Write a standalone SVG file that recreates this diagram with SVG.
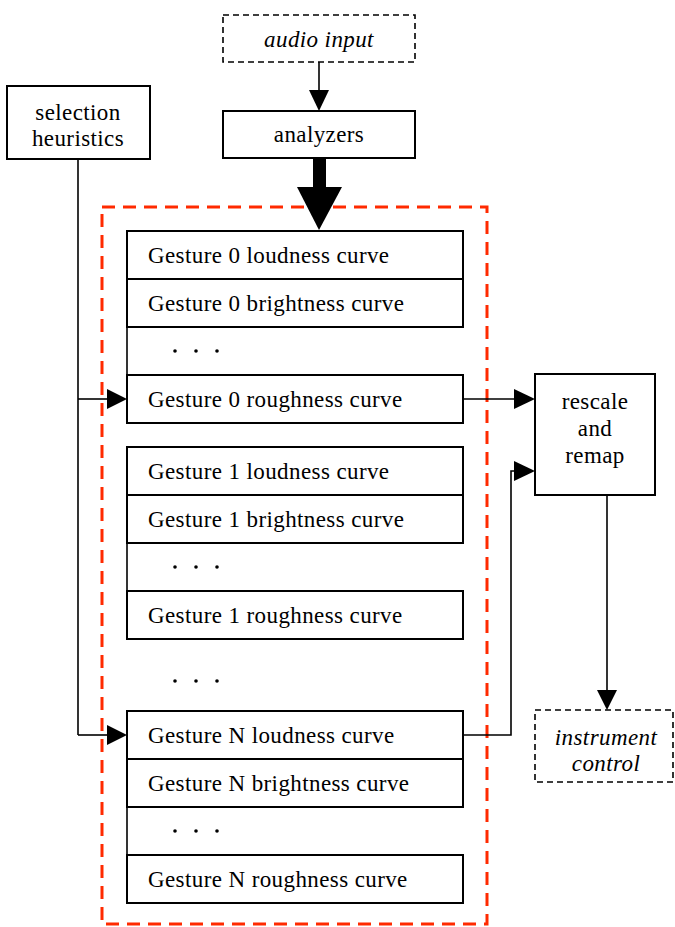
<svg xmlns="http://www.w3.org/2000/svg" width="675" height="927" viewBox="0 0 675 927">
<style>
text{font-family:"Liberation Serif","Times New Roman",serif;font-size:23px;letter-spacing:0.4px;fill:#000}
.c{text-anchor:middle}
.i{font-style:italic}
.box{fill:#fff;stroke:#000;stroke-width:2}
.dbox{fill:#fff;stroke:#000;stroke-width:1.6;stroke-dasharray:6 4}
.ln{fill:none;stroke:#000;stroke-width:1.6}
.ah{fill:#000}
.dot{fill:#000}
</style>
<rect width="675" height="927" fill="#fff"/>

<g id="container">
<rect x="102" y="207" width="385" height="717" fill="none" stroke="#ff2a00" stroke-width="3" stroke-dasharray="13 8"/>
</g>

<g id="audio-input">
<rect class="dbox" x="223" y="15" width="192" height="47"/>
<text class="c i" x="319" y="47">audio input</text>
</g>
<g id="analyzers">
<rect class="box" x="223" y="111" width="192" height="47"/>
<text class="c" x="319" y="142">analyzers</text>
</g>
<g id="selection-heuristics">
<rect class="box" x="7" y="86" width="143" height="73"/>
<text class="c" x="78" y="120">selection</text>
<text class="c" x="78" y="146">heuristics</text>
</g>
<g id="rescale-remap">
<rect class="box" x="535" y="374" width="120" height="121"/>
<text class="c" x="595" y="409">rescale</text>
<text class="c" x="595" y="436">and</text>
<text class="c" x="595" y="463">remap</text>
</g>
<g id="instrument-control">
<rect class="dbox" x="535" y="710" width="138" height="72"/>
<text class="c i" x="606" y="745">instrument</text>
<text class="c i" x="606" y="771">control</text>
</g>

<g id="gesture-0">
<rect class="box" x="127" y="231" width="336" height="48"/>
<text x="148" y="263">Gesture 0 loudness curve</text>
<rect class="box" x="127" y="279" width="336" height="48"/>
<text x="148" y="311">Gesture 0 brightness curve</text>
<line class="ln" x1="127" y1="327" x2="127" y2="375" stroke-width="2"/>
<circle class="dot" cx="175" cy="351" r="1.8"/><circle class="dot" cx="196" cy="351" r="1.8"/><circle class="dot" cx="217" cy="351" r="1.8"/>
<rect class="box" x="127" y="375" width="336" height="48"/>
<text x="148" y="407">Gesture 0 roughness curve</text>
</g>

<g id="gesture-1">
<rect class="box" x="127" y="447" width="336" height="48"/>
<text x="148" y="479">Gesture 1 loudness curve</text>
<rect class="box" x="127" y="495" width="336" height="48"/>
<text x="148" y="527">Gesture 1 brightness curve</text>
<line class="ln" x1="127" y1="543" x2="127" y2="591" stroke-width="2"/>
<circle class="dot" cx="175" cy="567" r="1.8"/><circle class="dot" cx="196" cy="567" r="1.8"/><circle class="dot" cx="217" cy="567" r="1.8"/>
<rect class="box" x="127" y="591" width="336" height="48"/>
<text x="148" y="623">Gesture 1 roughness curve</text>
</g>

<g id="gesture-ellipsis">
<circle class="dot" cx="175" cy="681" r="1.8"/><circle class="dot" cx="196" cy="681" r="1.8"/><circle class="dot" cx="217" cy="681" r="1.8"/>
</g>

<g id="gesture-N">
<rect class="box" x="127" y="711" width="336" height="48"/>
<text x="148" y="743">Gesture N loudness curve</text>
<rect class="box" x="127" y="759" width="336" height="48"/>
<text x="148" y="791">Gesture N brightness curve</text>
<line class="ln" x1="127" y1="807" x2="127" y2="855" stroke-width="2"/>
<circle class="dot" cx="175" cy="831" r="1.8"/><circle class="dot" cx="196" cy="831" r="1.8"/><circle class="dot" cx="217" cy="831" r="1.8"/>
<rect class="box" x="127" y="855" width="336" height="48"/>
<text x="148" y="887">Gesture N roughness curve</text>
</g>

<g id="connectors">
<line class="ln" x1="319" y1="62" x2="319" y2="91"/>
<polygon class="ah" points="309,90 329,90 319,111"/>
<rect x="313" y="158" width="13" height="30" fill="#000"/>
<polygon class="ah" points="297,187 342,187 319,230"/>
<polyline class="ln" points="78,159 78,735"/>
<line class="ln" x1="78" y1="399" x2="108" y2="399"/>
<polygon class="ah" points="107,389 107,409 127,399"/>
<line class="ln" x1="78" y1="735" x2="108" y2="735"/>
<polygon class="ah" points="107,725 107,745 127,735"/>
<line class="ln" x1="463" y1="399" x2="515" y2="399"/>
<polygon class="ah" points="514,389 514,409 535,399"/>
<polyline class="ln" points="463,735 511,735 511,471 515,471"/>
<polygon class="ah" points="514,461 514,481 535,471"/>
<line class="ln" x1="607" y1="495" x2="607" y2="691"/>
<polygon class="ah" points="597,690 617,690 607,710"/>
</g>
</svg>
